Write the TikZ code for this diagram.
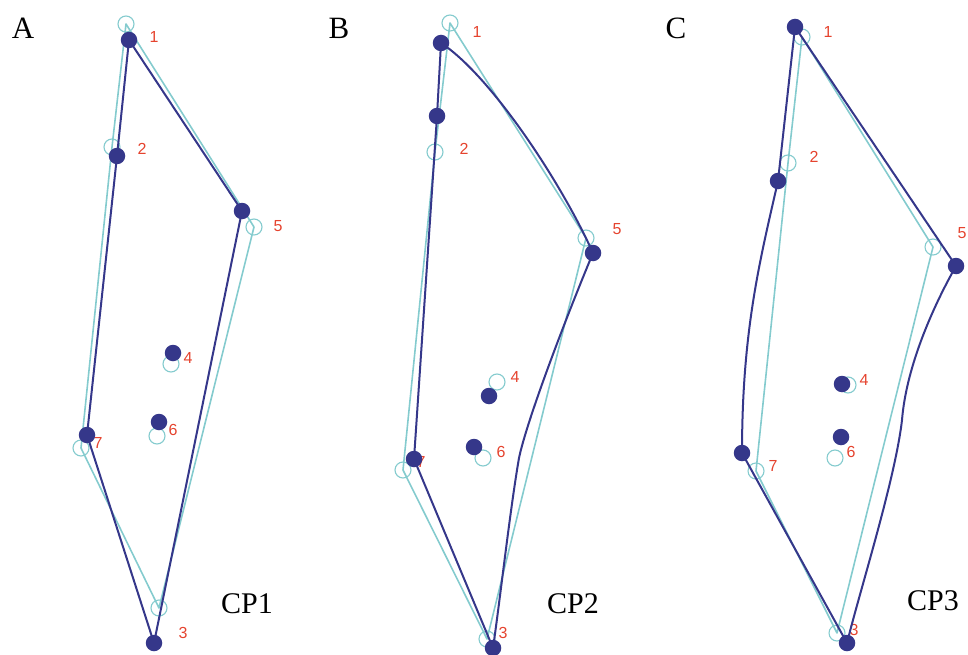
\documentclass[tikz,border=0pt]{standalone}
\usepackage{fontspec}
\setmainfont{Liberation Serif}
\newfontfamily\labfont{Liberation Sans}
\definecolor{navy}{HTML}{35378A}
\definecolor{teal}{HTML}{84CBCE}
\definecolor{labred}{HTML}{E5432E}
\tikzset{
  fdot/.style={circle,fill=navy,inner sep=0pt,minimum size=16.5pt},
  odot/.style={circle,draw=teal,line width=1.1pt,inner sep=0pt,minimum size=16pt},
  lab/.style={text=labred,font=\labfont\fontsize{16}{16}\selectfont,inner sep=0pt},
  panel/.style={font=\fontsize{31}{31}\selectfont,inner sep=0pt},
  cpname/.style={font=\fontsize{30}{30}\selectfont,inner sep=0pt},
  darkline/.style={draw=navy,line width=2pt,line join=round},
  cyanline/.style={draw=teal,line width=1.6pt,line join=round}
}
\begin{document}
\begin{tikzpicture}[x=1pt,y=-1pt]
\useasboundingbox (0,0) rectangle (968,655);
% ---------- labels ----------
\node[panel] (tA) at (23,28) {A};
\node[panel] (tB) at (339,28) {B};
\node[panel] (tC) at (676,28) {C};
\node[cpname] (cp1) at (247,604) {CP1};
\node[cpname] (cp2) at (573,604) {CP2};
\node[cpname] (cp3) at (933,601) {CP3};
% Panel A labels
\node[lab] (la1) at (154,37) {1};
\node[lab] (la2) at (142,149) {2};
\node[lab] (la5) at (278,226) {5};
\node[lab] (la4) at (188,358) {4};
\node[lab] (la6) at (173,430) {6};
\node[lab] (la7) at (98,443) {7};
\node[lab] (la3) at (183,633) {3};
% Panel B labels
\node[lab] (lb1) at (477,32) {1};
\node[lab] (lb2) at (464,149) {2};
\node[lab] (lb5) at (617,229) {5};
\node[lab] (lb4) at (515,377) {4};
\node[lab] (lb6) at (501,452) {6};
\node[lab] (lb7) at (421,462) {7};
\node[lab] (lb3) at (503,633) {3};
% Panel C labels
\node[lab] (lc1) at (828,32) {1};
\node[lab] (lc2) at (814,157) {2};
\node[lab] (lc5) at (962,233) {5};
\node[lab] (lc4) at (864,380) {4};
\node[lab] (lc6) at (851,452) {6};
\node[lab] (lc7) at (773,466) {7};
\node[lab] (lc3) at (854,630) {3};
% ---------- open (cyan) points ----------
\node[odot] (oa1) at (126,24) {};
\node[odot] (oa2) at (112,147) {};
\node[odot] (oa5) at (254,227) {};
\node[odot] (oa4) at (171,364) {};
\node[odot] (oa6) at (157,436) {};
\node[odot] (oa7) at (81,448) {};
\node[odot] (oa3) at (159,608) {};
\node[odot] (ob1) at (450,23) {};
\node[odot] (ob2) at (435,152) {};
\node[odot] (ob5) at (586,238) {};
\node[odot] (ob4) at (497,382) {};
\node[odot] (ob6) at (483,458) {};
\node[odot] (ob7) at (403,470) {};
\node[odot] (ob3) at (487,639) {};
\node[odot] (oc1) at (802,37) {};
\node[odot] (oc2) at (788,163) {};
\node[odot] (oc5) at (933,247) {};
\node[odot] (oc4) at (848,385) {};
\node[odot] (oc6) at (835,458) {};
\node[odot] (oc7) at (756,471) {};
\node[odot] (oc3) at (837,633) {};
% cyan outlines
\draw[cyanline] (oa1.center) -- (oa5.center) -- (oa3.center) -- (oa7.center) -- (oa2.center) -- cycle;
\draw[cyanline] (ob1.center) -- (ob5.center) -- (ob3.center) -- (ob7.center) -- (ob2.center) -- cycle;
\draw[cyanline] (oc1.center) -- (oc5.center) -- (oc3.center) -- (oc7.center) -- (oc2.center) -- cycle;
% ---------- filled (navy) points: coordinates first ----------
\coordinate (fa1) at (129,40);
\coordinate (fa2) at (117,156);
\coordinate (fa5) at (242,211);
\coordinate (fa4) at (173,353);
\coordinate (fa6) at (159,422);
\coordinate (fa7) at (87,435);
\coordinate (fa3) at (154,643);
\coordinate (fb1) at (441,43);
\coordinate (fb2) at (437,116);
\coordinate (fb5) at (593,253);
\coordinate (fb4) at (489,396);
\coordinate (fb6) at (474,447);
\coordinate (fb7) at (414,459);
\coordinate (fb3) at (493,648);
\coordinate (fc1) at (795,27);
\coordinate (fc2) at (778,181);
\coordinate (fc5) at (956,266);
\coordinate (fc4) at (842,384);
\coordinate (fc6) at (841,437);
\coordinate (fc7) at (742,453);
\coordinate (fc3) at (847,643);
% navy outlines
\draw[darkline] (fa1) -- (fa5) -- (fa3) -- (fa7) -- (fa2) -- cycle;
\draw[darkline] (fb1) .. controls (490,75) and (560,180) .. (fb5)
  .. controls (565,320) and (527,420) .. (519,458)
  .. controls (510,510) and (500,600) .. (fb3) -- (fb7) -- (fb2) -- cycle;
\draw[darkline] (fc1) -- (fc5) .. controls (930,312) and (906,370) .. (902,420)
  .. controls (895,480) and (860,590) .. (fc3) -- (fc7)
  .. controls (742,330) and (760,260) .. (fc2) -- cycle;
% filled dots
\foreach \p in {fa1,fa2,fa5,fa4,fa6,fa7,fa3,fb1,fb2,fb5,fb4,fb6,fb7,fb3,fc1,fc2,fc5,fc4,fc6,fc7,fc3}
  \node[fdot] (d\p) at (\p) {};
\end{tikzpicture}
\end{document}
